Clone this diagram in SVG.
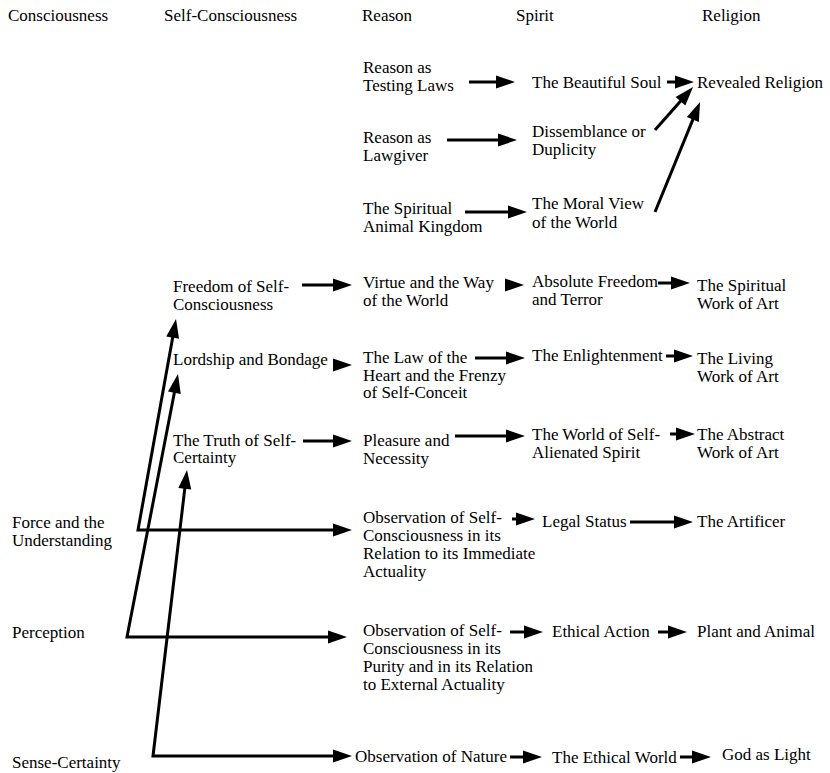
<svg xmlns="http://www.w3.org/2000/svg" width="830" height="773" viewBox="0 0 830 773">
<style>
text{font-family:"Liberation Serif","Times New Roman",serif;font-size:17px;fill:#000}
.hd{font-size:17px}
.c{fill:none;stroke:#000;stroke-width:3;stroke-linejoin:miter;marker-end:url(#ah)}
.lc{fill:none;stroke:#000;stroke-width:3;stroke-linejoin:miter;marker-start:url(#ah);marker-end:url(#ah)}
</style>
<defs>
<marker id="ah" markerUnits="userSpaceOnUse" markerWidth="20" markerHeight="14" refX="7" refY="6.5" orient="auto-start-reverse" viewBox="0 0 20 14" overflow="visible">
<path d="M0,0 L19,6.5 L0,13 Z" fill="#000"/>
</marker>
</defs>
<rect width="830" height="773" fill="#fff"/>
<g id="headers">
<text class="hd" x="8" y="21">Consciousness</text>
<text class="hd" x="164" y="21">Self-Consciousness</text>
<text class="hd" x="362" y="21">Reason</text>
<text class="hd" x="516" y="21">Spirit</text>
<text class="hd" x="702" y="21">Religion</text>
</g>
<g id="force"><text x="12" y="528">Force and the</text><text x="12" y="545.5">Understanding</text></g>
<g id="perception"><text x="12" y="638">Perception</text></g>
<g id="sense"><text x="12" y="768">Sense-Certainty</text></g>
<g id="freedom"><text x="173" y="292">Freedom of Self-</text><text x="173" y="309.5">Consciousness</text></g>
<g id="lordship"><text x="173" y="365">Lordship and Bondage</text></g>
<g id="truth"><text x="173" y="445.5">The Truth of Self-</text><text x="173" y="463">Certainty</text></g>
<g id="testing"><text x="363" y="72.5">Reason as</text><text x="363" y="90.5">Testing Laws</text></g>
<g id="lawgiver"><text x="363" y="143">Reason as</text><text x="363" y="161">Lawgiver</text></g>
<g id="animal"><text x="363" y="213.5">The Spiritual</text><text x="363" y="232">Animal Kingdom</text></g>
<g id="virtue"><text x="363" y="288">Virtue and the Way</text><text x="363" y="305.5">of the World</text></g>
<g id="law"><text x="363" y="363">The Law of the</text><text x="363" y="380.5">Heart and the Frenzy</text><text x="363" y="398">of Self-Conceit</text></g>
<g id="pleasure"><text x="363" y="446">Pleasure and</text><text x="363" y="463.5">Necessity</text></g>
<g id="obs1"><text x="363" y="523">Observation of Self-</text><text x="363" y="541">Consciousness in its</text><text x="363" y="559">Relation to its Immediate</text><text x="363" y="576.5">Actuality</text></g>
<g id="obs2"><text x="363" y="636">Observation of Self-</text><text x="363" y="654">Consciousness in its</text><text x="363" y="672">Purity and in its Relation</text><text x="363" y="690">to External Actuality</text></g>
<g id="obsnature"><text x="355" y="762">Observation of Nature</text></g>
<g id="beautiful"><text x="532" y="88">The Beautiful Soul</text></g>
<g id="dissemblance"><text x="532" y="136.5">Dissemblance or</text><text x="532" y="155">Duplicity</text></g>
<g id="moral"><text x="532" y="209">The Moral View</text><text x="532" y="227.5">of the World</text></g>
<g id="absolute"><text x="532" y="287">Absolute Freedom</text><text x="532" y="304.5">and Terror</text></g>
<g id="enlightenment"><text x="532" y="361">The Enlightenment</text></g>
<g id="alienated"><text x="532" y="440">The World of Self-</text><text x="532" y="457.5">Alienated Spirit</text></g>
<g id="legal"><text x="542" y="527">Legal Status</text></g>
<g id="ethicalaction"><text x="552" y="637">Ethical Action</text></g>
<g id="ethicalworld"><text x="552" y="763">The Ethical World</text></g>
<g id="revealed"><text x="697" y="88">Revealed Religion</text></g>
<g id="spiritualart"><text x="697" y="291">The Spiritual</text><text x="697" y="308.5">Work of Art</text></g>
<g id="livingart"><text x="697" y="364">The Living</text><text x="697" y="381.5">Work of Art</text></g>
<g id="abstractart"><text x="697" y="440">The Abstract</text><text x="697" y="457.5">Work of Art</text></g>
<g id="artificer"><text x="697" y="527">The Artificer</text></g>
<g id="plant"><text x="697" y="637">Plant and Animal</text></g>
<g id="god"><text x="722" y="760">God as Light</text></g>
<g id="connectors">
<path class="lc" d="M173.9,330.8 L138,530 L340,530"/>
<path class="lc" d="M175.7,385.8 L127,637 L335,637"/>
<path class="lc" d="M185.6,481.9 L153,756 L340,756"/>
<path class="c" d="M469,82 H503"/>
<path class="c" d="M667,82 H682"/>
<path class="c" d="M447,140 H505"/>
<path class="c" d="M655,130 L685.1,96"/>
<path class="c" d="M465,212 H515"/>
<path class="c" d="M655,212 L695.5,113.1"/>
<path class="c" d="M302,285 H340"/>
<path class="c" d="M505,285 H512"/>
<path class="c" d="M658,283 H678"/>
<path class="c" d="M333,365 H340"/>
<path class="c" d="M475,358 H513"/>
<path class="c" d="M666,356 H681"/>
<path class="c" d="M303,441 H340"/>
<path class="c" d="M455,436 H513"/>
<path class="c" d="M670,434 H683"/>
<path class="c" d="M512,519 H523"/>
<path class="c" d="M630,522 H681"/>
<path class="c" d="M510,632 H531"/>
<path class="c" d="M658,632 H675"/>
<path class="c" d="M510,757 H530"/>
<path class="c" d="M680,757 H699"/>
</g>
</svg>
